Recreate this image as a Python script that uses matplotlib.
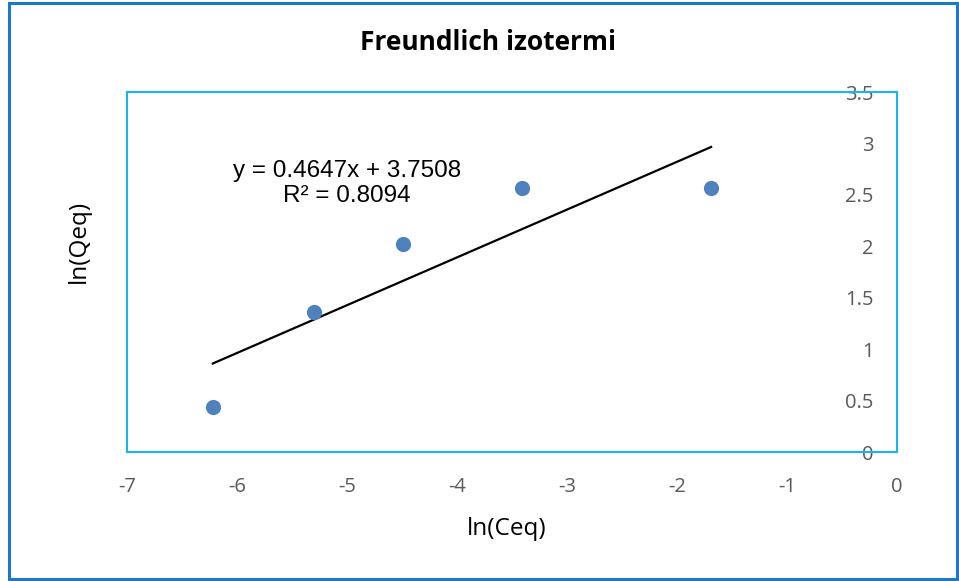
import matplotlib
matplotlib.use("Agg")
import matplotlib.pyplot as plt
import numpy as np
from matplotlib.patches import Rectangle

ln_ceq = [-6.22, -5.30, -4.49, -3.41, -1.69]
ln_qeq = [0.44, 1.36, 2.02, 2.57, 2.57]
slope = 0.4647
intercept = 3.7508
r2 = 0.8094
x_ticks = [-7, -6, -5, -4, -3, -2, -1, 0]
y_ticks = [0, 0.5, 1, 1.5, 2, 2.5, 3, 3.5]
y_tick_labels = ["0", "0.5", "1", "1.5", "2", "2.5", "3", "3.5"]

W, H = 959, 581
fig = plt.figure(figsize=(W / 100, H / 100), dpi=100)
fig.patch.set_facecolor("white")

# outer border
fig.add_artist(Rectangle((9 / W, 2 / H), (W - 11) / W, (H - 5) / H, transform=fig.transFigure,
                         fill=False, edgecolor="#1E78C8", linewidth=2.2))

l, r, t, b = 127, 897, 92, 452
ax = fig.add_axes([l / W, 1 - b / H, (r - l) / W, (b - t) / H])
ax.set_xlim(-7, 0)
ax.set_ylim(0, 3.5)
for s in ax.spines.values():
    s.set_color("#1AB4EC")
    s.set_linewidth(1.5)

ax.scatter(ln_ceq, ln_qeq, s=120, color="#4F81BD", zorder=3, linewidths=0)
xf = np.array([min(ln_ceq), max(ln_ceq)])
ax.plot(xf, slope * xf + intercept, color="black", linewidth=1.6, zorder=2)

tick_font = dict(family=["Open Sans", "DejaVu Sans"], size=14.5)
ax.set_xticks(x_ticks)
ax.set_xticklabels([str(v) for v in x_ticks], color="#595959", **tick_font)
ax.set_yticks(y_ticks)
ax.set_yticklabels(y_tick_labels, color="#595959", **tick_font)
ax.tick_params(axis="x", length=0, pad=18)
ax.tick_params(axis="y", left=False, right=False, labelleft=False, labelright=True, length=0, pad=-17)
for lab in ax.get_yticklabels():
    lab.set_horizontalalignment("right")

ax.text(-5.0, 2.61, f"y = {slope}x + {intercept}\nR² = {r2}", ha="center", va="center",
        fontsize=17.5, family=["Liberation Sans", "DejaVu Sans"], linespacing=1.2)

fig.text(488 / W, 1 - 43 / H, "Freundlich izotermi", ha="center", va="center",
         fontsize=19, fontweight="bold", family=["Open Sans", "DejaVu Sans"], color="black")
fig.text(507 / W, 1 - 529 / H, "ln(Ceq)", ha="center", va="center",
         fontsize=17.5, family=["Open Sans", "DejaVu Sans"], color="black")
fig.text(79 / W, 1 - 241 / H, "ln(Qeq)", ha="center", va="center", rotation=90,
         fontsize=17.5, family=["Open Sans", "DejaVu Sans"], color="black")

fig.savefig("out.png", dpi=100)
